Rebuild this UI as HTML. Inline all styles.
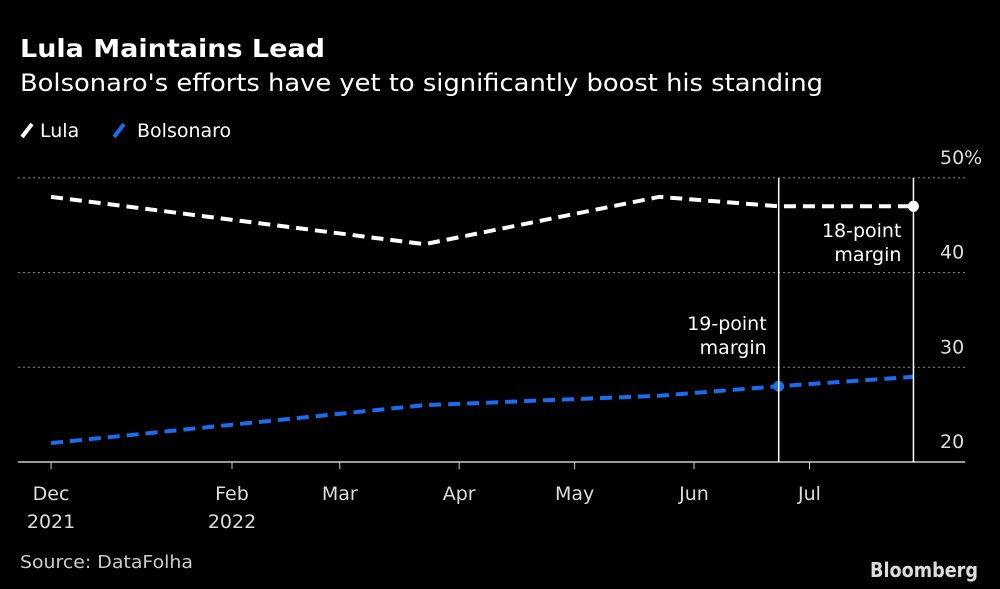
<!DOCTYPE html>
<html><head><meta charset="utf-8"><style>
body{margin:0;background:#000;width:1000px;height:589px;overflow:hidden;font-family:"DejaVu Sans","Liberation Sans",sans-serif;color:#fff}
svg{position:absolute;left:0;top:0}
</style></head><body>
<svg width="1000" height="589">
<text x="20" y="57" font-size="25" font-weight="bold" fill="#fff" textLength="305" lengthAdjust="spacingAndGlyphs">Lula Maintains Lead</text>
<text x="20" y="91" font-size="24" fill="#fff" textLength="803" lengthAdjust="spacingAndGlyphs">Bolsonaro's efforts have yet to significantly boost his standing</text>
<g><line x1="22" y1="137" x2="32" y2="124" stroke="#fff" stroke-width="4"/><text x="40" y="137" font-size="19" fill="#fff">Lula</text></g>
<g><line x1="114" y1="137" x2="124" y2="124" stroke="#1a6cf0" stroke-width="4"/><text x="137" y="137" font-size="19" fill="#fff">Bolsonaro</text></g>
<g id="grid"></g><g id="xaxis"></g><g id="series"></g><g id="annot"></g>
<text x="20" y="568" font-size="18" fill="#ccc" textLength="173" lengthAdjust="spacingAndGlyphs">Source: DataFolha</text>
<text x="978" y="577" font-size="20" font-weight="bold" fill="#ddd" text-anchor="end" textLength="108" lengthAdjust="spacingAndGlyphs">Bloomberg</text>
</svg>
<script>
const dates=["2021-12-16","2022-03-23","2022-05-23","2022-06-23","2022-07-28"];
const lula=[48,43,48,47,47];
const bolso=[22,26,27,28,29];
const yTicks=[20,30,40,50];
const yTickLabels=["20","30","40","50%"];
const xTickDates=["2021-12-16","2022-02-01","2022-03-01","2022-04-01","2022-05-01","2022-06-01","2022-07-01"];
const xTickLabels=[["Dec","2021"],["Feb","2022"],["Mar",""],["Apr",""],["May",""],["Jun",""],["Jul",""]];
const markers=[{date:"2022-06-23",label:["19-point","margin"]},{date:"2022-07-28",label:["18-point","margin"]}];
const NS="http://www.w3.org/2000/svg";
const feb1=Date.UTC(2022,1,1);
function X(d){const t=Date.parse(d+"T00:00:00Z");return 232+(t-feb1)/864e5*3.85;}
function Y(v){return 462-(v-20)*9.47;}
function mk(tag,at,parent){const e=document.createElementNS(NS,tag);for(const k in at)e.setAttribute(k,at[k]);document.getElementById(parent).appendChild(e);return e;}
yTicks.forEach((v,i)=>{
 if(v>20){const l=mk("line",{x1:18,x2:965,y1:Y(v),y2:Y(v),stroke:"#888","stroke-width":1,"stroke-dasharray":"2,3"},"grid");
 
 }
 const t=mk("text",{x:940,y:Y(v)-14,"font-size":19,fill:"#ddd"},"grid");t.textContent=yTickLabels[i];
 
 
});
const ax=mk("line",{x1:18,x2:965,y1:462,y2:462,stroke:"#ccc","stroke-width":1.5},"xaxis");


xTickDates.forEach((d,i)=>{
 const x=X(d);
 mk("line",{x1:x,x2:x,y1:462,y2:469,stroke:"#ccc"},"xaxis");
 const t=mk("text",{x:x,y:500,"font-size":19,fill:"#ddd","text-anchor":"middle"},"xaxis");
 
 
 t.innerHTML='<tspan x="'+x+'">'+xTickLabels[i][0]+'</tspan><tspan x="'+x+'" dy="28">'+xTickLabels[i][1]+'</tspan>';
});
markers.forEach(m=>{
 const x=X(m.date);
 const l=mk("line",{x1:x,x2:x,y1:178,y2:462,stroke:"#fff","stroke-width":1.5},"annot");
 
 
});
function series(vals,color,name){
 const p=dates.map((d,i)=>X(d)+","+Y(vals[i])).join(" ");
 const pl=mk("polyline",{points:p,fill:"none",stroke:color,"stroke-width":4,"stroke-dasharray":"12,7"},"series");
 
 
}
series(lula,"#fff","lula-line");
series(bolso,"#1a6cf0","bolsonaro-line");
const c1=mk("circle",{cx:X(dates[4]),cy:Y(lula[4]),r:5.5,fill:"#fff"},"series");


const c2=mk("circle",{cx:X(dates[3]),cy:Y(bolso[3]),r:5.5,fill:"#1a6cf0"},"series");


const anY=[330,237];
markers.forEach((m,i)=>{
 const x=X(m.date)-12;
 const t=mk("text",{x:x,y:anY[i],"font-size":19,fill:"#fff","text-anchor":"end"},"annot");
 
 
 t.innerHTML='<tspan x="'+x+'">'+m.label[0]+'</tspan><tspan x="'+x+'" dy="24">'+m.label[1]+'</tspan>';
});
</script>
</body></html>
